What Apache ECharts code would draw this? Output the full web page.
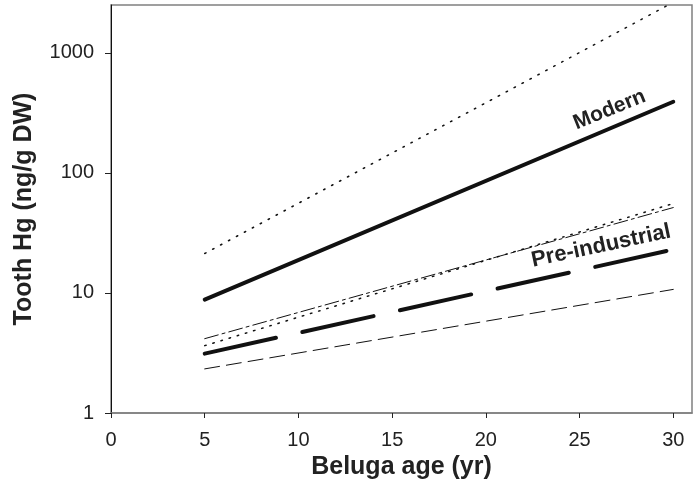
<!DOCTYPE html>
<html>
<head>
<meta charset="utf-8">
<script src="https://cdn.jsdelivr.net/npm/echarts@6/dist/echarts.min.js"></script>
<style>
html,body{margin:0;padding:0;background:#fff;}
#chart{width:700px;height:500px;}
</style>
</head>
<body>
<div id="chart"></div>
<script>
// Data
var ages = [5, 30];
var modern = [8.8, 391];
var modernUpper = [21.3, 2630];
var modernLower = [3.64, 55.5];
var preIndustrial = [3.12, 23];
var preIndustrialUpper = [4.16, 51.4];
var preIndustrialLower = [2.33, 10.7];
var xTicks = [0, 5, 10, 15, 20, 25, 30];
var yTicks = [1, 10, 100, 1000];
var labelModern = {text: 'Modern', x: 26.6, y: 335};
var labelPre = {text: 'Pre-industrial', x: 26.15, y: 24.6};

function pts(vals) { return ages.map(function (a, i) { return [a, vals[i]]; }); }

var FONT = '"Liberation Sans", Arial, Helvetica, sans-serif';
var chart = echarts.init(document.getElementById('chart'), null, {renderer: 'canvas'});

function ser(name, vals, width, type) {
  return {
    name: name, type: 'line', data: pts(vals), showSymbol: false, symbol: 'none',
    animation: false, silent: true, clip: true,
    lineStyle: {color: '#111', width: width, type: type, cap: 'round'}
  };
}

var option = {
  animation: false,
  backgroundColor: '#fff',
  grid: {left: 111, right: 8, top: 5, bottom: 87, show: true, borderColor: '#808080', borderWidth: 1.5, backgroundColor: 'transparent'},
  xAxis: {
    type: 'value', min: 0, max: 31,
    name: 'Beluga age (yr)', nameLocation: 'middle', nameGap: 42,
    nameTextStyle: {fontFamily: FONT, fontWeight: 'bold', fontSize: 25, color: '#222'},
    axisLine: {show: true, onZero: false, lineStyle: {color: '#808080', width: 1.5}},
    axisTick: {show: true, inside: false, length: 5, customValues: xTicks, lineStyle: {color: '#222', width: 1}},
    axisLabel: {customValues: xTicks, fontFamily: FONT, fontSize: 20, color: '#222', margin: 17},
    splitLine: {show: false}
  },
  yAxis: {
    type: 'log', logBase: 10, min: 1, max: 2500,
    name: 'Tooth Hg (ng/g DW)', nameLocation: 'middle', nameGap: 74, nameRotate: 90,
    nameTextStyle: {fontFamily: FONT, fontWeight: 'bold', fontSize: 25, color: '#222'},
    axisLine: {show: true, onZero: false, lineStyle: {color: '#111', width: 1}},
    axisTick: {show: true, inside: false, length: 6, customValues: yTicks, lineStyle: {color: '#222', width: 1}},
    axisLabel: {customValues: yTicks, fontFamily: FONT, fontSize: 20, color: '#222', margin: 17,
      formatter: function (v) { return String(Math.round(v)); }},
    splitLine: {show: false}
  },
  series: [
    ser('Modern upper', modernUpper, 1.5, [1.5, 7.5]),
    ser('Modern', modern, 4, 'solid'),
    ser('Modern lower', modernLower, 1.5, [1.5, 7]),
    ser('Pre-industrial upper', preIndustrialUpper, 1, [14, 4, 3, 4]),
    ser('Pre-industrial', preIndustrial, 4, [73, 27]),
    ser('Pre-industrial lower', preIndustrialLower, 1, [15, 7])
  ]
};
chart.setOption(option);

function placeLabels() {
  var p1 = chart.convertToPixel({gridIndex: 0}, [labelModern.x, labelModern.y]);
  var p2 = chart.convertToPixel({gridIndex: 0}, [labelPre.x, labelPre.y]);
  chart.setOption({
    graphic: [
      {type: 'text', x: p1[0], y: p1[1], rotation: 22 * Math.PI / 180, silent: true,
       style: {text: labelModern.text, font: 'bold 21px ' + FONT, fill: '#222', align: 'center', verticalAlign: 'middle'}},
      {type: 'text', x: p2[0], y: p2[1], rotation: 12 * Math.PI / 180, silent: true,
       style: {text: labelPre.text, font: 'bold 22px ' + FONT, fill: '#222', align: 'center', verticalAlign: 'middle'}}
    ]
  });
}
placeLabels();
</script>
</body>
</html>
